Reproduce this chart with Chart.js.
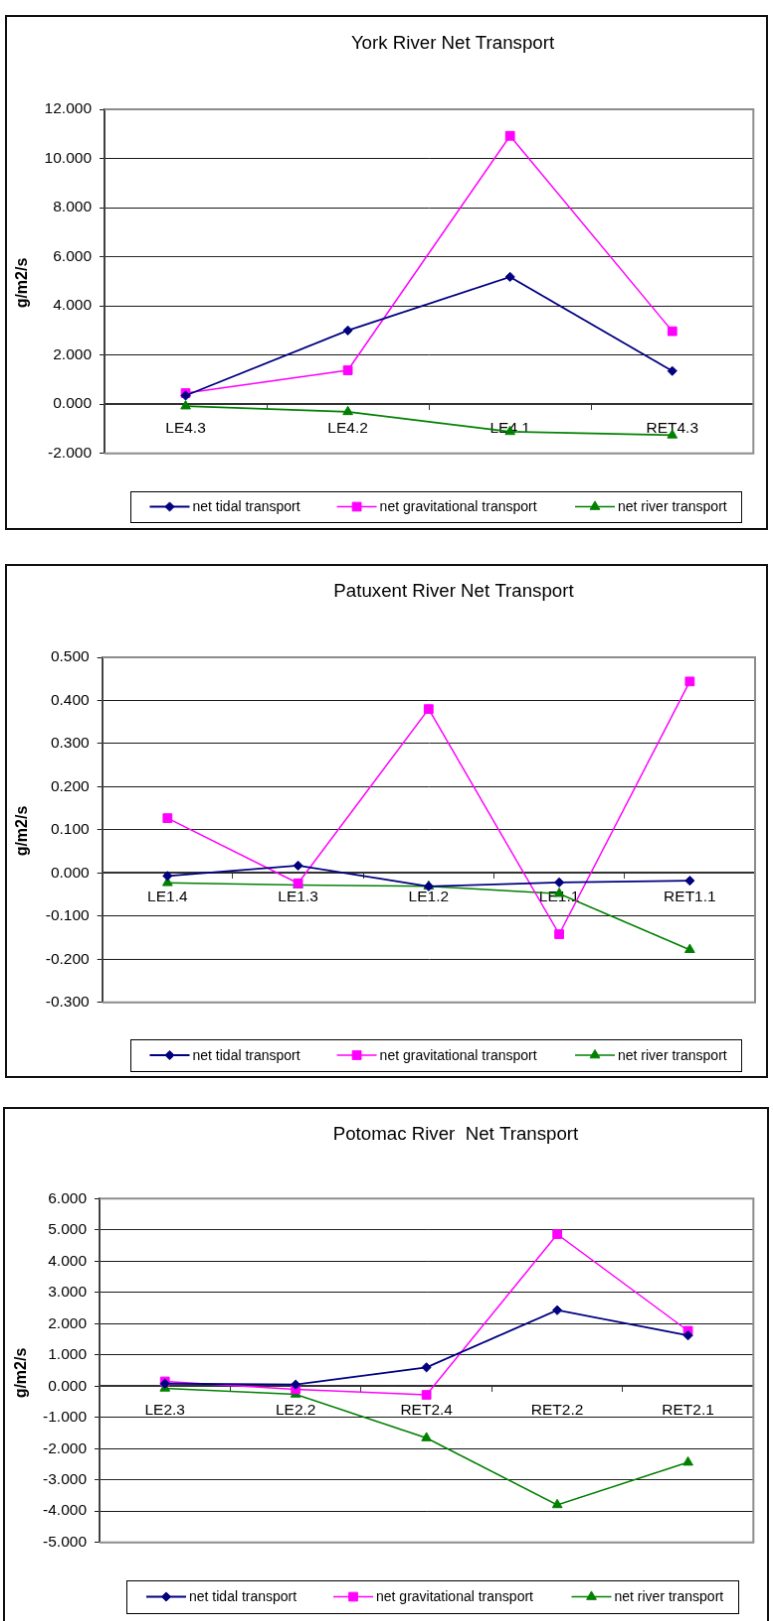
<!DOCTYPE html>
<html>
<head>
<meta charset="utf-8">
<script src="https://cdn.jsdelivr.net/npm/chart.js@4.4.1/dist/chart.umd.min.js"></script>
<style>
  body { margin:0; background:#fff; width:773px; height:1621px; overflow:hidden; position:relative; }
  canvas { position:absolute; border:2px solid #111; background:#fff; }
</style>
</head>
<body>
<canvas id="york"     width="763" height="515" style="left:5px;top:15px"></canvas>
<canvas id="patuxent" width="763" height="514" style="left:5px;top:564px"></canvas>
<canvas id="potomac"  width="766" height="520" style="left:3px;top:1107px"></canvas>

<script>
// ─── data ────────────────────────────────────────────────────────────────────
const seriesNames = ['net tidal transport', 'net gravitational transport', 'net river transport'];

const yorkStations = ['LE4.3', 'LE4.2', 'LE4.1', 'RET4.3'];
const yorkTidal    = [0.35, 3.00, 5.18, 1.35];
const yorkGrav     = [0.45, 1.38, 10.92, 2.97];
const yorkRiver    = [-0.08, -0.31, -1.12, -1.26];
const yorkTicks    = { min:-2, max:12, step:2 };

const patuxentStations = ['LE1.4', 'LE1.3', 'LE1.2', 'LE1.1', 'RET1.1'];
const patuxentTidal    = [-0.007, 0.017, -0.031, -0.022, -0.018];
const patuxentGrav     = [0.127, -0.024, 0.380, -0.142, 0.444];
const patuxentRiver    = [-0.023, -0.028, -0.031, -0.048, -0.178];
const patuxentTicks    = { min:-0.3, max:0.5, step:0.1 };

const potomacStations = ['LE2.3', 'LE2.2', 'RET2.4', 'RET2.2', 'RET2.1'];
const potomacTidal    = [0.08, 0.05, 0.60, 2.43, 1.62];
const potomacGrav     = [0.15, -0.10, -0.28, 4.86, 1.77];
const potomacRiver    = [-0.07, -0.26, -1.66, -3.80, -2.44];
const potomacTicks    = { min:-5, max:6, step:1 };

// ─── styles ──────────────────────────────────────────────────────────────────
const FONT = '"Liberation Sans", Arial, sans-serif';
const SERIES_STYLE = [
  { color:'#000080', width:1.8, point:'rectRot',  radius:4.6 },
  { color:'#ff00ff', width:1.5, point:'rect',     radius:6.2 },
  { color:'#008000', width:1.6, point:'triangle', radius:5.6 },
];

// ─── Excel-like frame: plot border, titles, boxed legend ─────────────────────
const excelFrame = {
  id: 'excelFrame',
  beforeDatasetsDraw(chart) {
    const { ctx, chartArea:a } = chart;
    ctx.save();
    ctx.strokeStyle = '#8c8c8c'; ctx.lineWidth = 2;
    ctx.beginPath();
    ctx.moveTo(a.left, a.top); ctx.lineTo(a.right, a.top);
    ctx.lineTo(a.right, a.bottom); ctx.lineTo(a.left, a.bottom);
    ctx.stroke();
    ctx.restore();
  },
  afterDraw(chart, args, o) {
    const ctx = chart.ctx;
    ctx.save();
    // chart title
    ctx.fillStyle = '#000';
    ctx.font = '18.7px ' + FONT;
    ctx.textAlign = 'center'; ctx.textBaseline = 'middle';
    ctx.fillText(o.title, o.titleX, o.titleY);
    // y axis title
    ctx.save();
    ctx.translate(o.yTitleX, o.yTitleY); ctx.rotate(-Math.PI/2);
    ctx.font = 'bold 16px ' + FONT;
    ctx.fillText('g/m2/s', 0, 0);
    ctx.restore();
    // legend box
    const [bx, by, bw, bh] = o.legendBox;
    ctx.strokeStyle = '#000'; ctx.lineWidth = 1;
    ctx.strokeRect(bx + 0.5, by + 0.5, bw, bh);
    const ly = by + bh/2;
    ctx.font = '14px ' + FONT;
    ctx.textAlign = 'left';
    chart.data.datasets.forEach((ds, i) => {
      const st = SERIES_STYLE[i], lx = o.legendX[i];
      ctx.strokeStyle = st.color; ctx.fillStyle = st.color; ctx.lineWidth = st.width;
      ctx.beginPath(); ctx.moveTo(lx, ly); ctx.lineTo(lx + 40, ly); ctx.stroke();
      ctx.lineWidth = 1;
      Chart.helpers.drawPoint(ctx, { pointStyle:st.point, radius:st.radius, rotation:0, borderWidth:1 }, lx + 20, ly);
      ctx.fillStyle = '#000';
      ctx.fillText(ds.label, lx + 43, ly + 1);
    });
    ctx.restore();
  }
};

// ─── chart factory ───────────────────────────────────────────────────────────
const mk = (id, labels, tidal, grav, river, tk, frame) => {
  const ds = (i, data) => ({
    label: seriesNames[i], data,
    borderColor: SERIES_STYLE[i].color, backgroundColor: SERIES_STYLE[i].color,
    borderWidth: SERIES_STYLE[i].width, tension: 0,
    pointStyle: SERIES_STYLE[i].point, pointRadius: SERIES_STYLE[i].radius,
    pointBorderWidth: 1, pointBackgroundColor: SERIES_STYLE[i].color, pointBorderColor: SERIES_STYLE[i].color,
  });
  new Chart(document.getElementById(id), {
    type: 'line',
    data: { labels, datasets: [ds(0, tidal), ds(1, grav), ds(2, river)] },
    plugins: [excelFrame],
    options: {
      responsive:false, animation:false, events:[],
      layout: { padding: frame.padding },
      plugins: { legend:{display:false}, title:{display:false}, tooltip:{enabled:false}, excelFrame: frame },
      scales: {
        x: {
          type:'category', offset:true, position:{ y:0 },
          grid: { drawOnChartArea:false, drawTicks:true, tickLength:5, color:'#333', offset:true },
          border: { display:true, color:'#333', width:2 },
          ticks: { color:'#000', font:{ family:FONT, size:15.5 }, padding:10, maxRotation:0, autoSkip:false },
        },
        y: {
          min: tk.min, max: tk.max,
          grid: { color:'#1a1a1a', lineWidth:1, drawTicks:true, tickLength:5 },
          border: { display:true, color:'#404040', width:2 },
          ticks: { stepSize: tk.step, color:'#000', font:{ family:FONT, size:15.5 }, padding:8,
                   callback: v => (Math.abs(v) < 1e-9 ? 0 : v).toFixed(3) },
          afterFit(scale) { scale.width = 60; },
        }
      }
    }
  });
};

mk('york', yorkStations, yorkTidal, yorkGrav, yorkRiver, yorkTicks, {
  padding: { left:38, top:93, right:12.7, bottom:75.3 },
  title:'York River Net Transport', titleX:448, titleY:27,
  yTitleX:16, yTitleY:268,
  legendBox:[124, 478, 614, 31], legendX:[143.5, 331.6, 571],
});

mk('patuxent', patuxentStations, patuxentTidal, patuxentGrav, patuxentRiver, patuxentTicks, {
  padding: { left:35.7, top:92, right:11, bottom:74.3 },
  title:'Patuxent River Net Transport', titleX:449, titleY:25.5,
  yTitleX:16, yTitleY:267,
  legendBox:[124, 477, 614, 32], legendX:[143.5, 331.6, 571],
});

mk('potomac', potomacStations, potomacTidal, potomacGrav, potomacRiver, potomacTicks, {
  padding: { left:35, top:90.3, right:13.7, bottom:83.3 },
  title:'Potomac River  Net Transport', titleX:453, titleY:25.6,
  yTitleX:17, yTitleY:266,
  legendBox:[122, 475, 615, 33], legendX:[142, 330, 569.5],
});
</script>
</body>
</html>
